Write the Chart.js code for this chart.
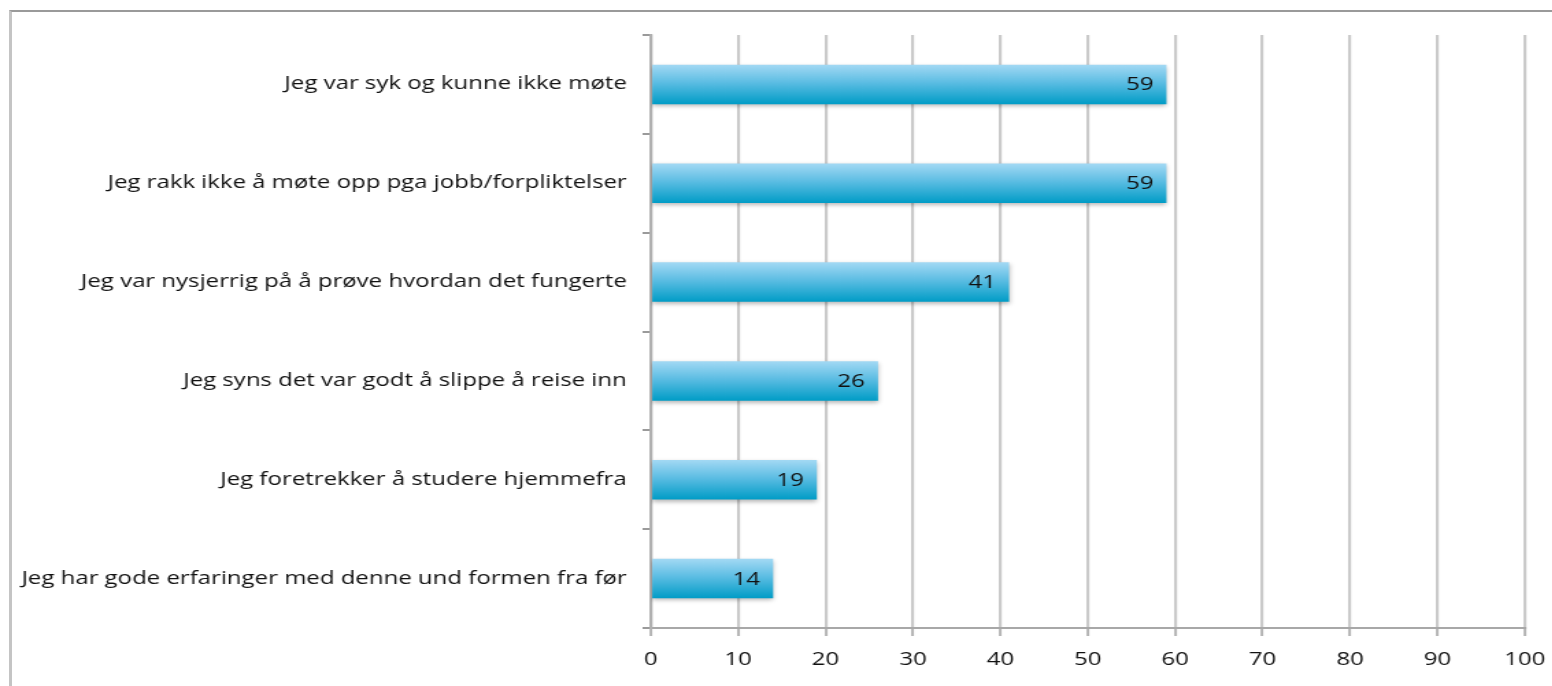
<!DOCTYPE html>
<html>
<head>
<meta charset="utf-8">
<script src="https://cdn.jsdelivr.net/npm/chart.js@4"></script>
<style>
  html, body { margin: 0; padding: 0; background: #fff; }
  #wrap { position: relative; width: 1552px; height: 686px; overflow: hidden; }
  #frame { position: absolute; left: 9px; top: 10px; width: 1600px; height: 800px;
           border-top: 2px solid #9a9a9a; border-left: 3px solid #c4c4c4; }
  /* originalen er strukket på bredden */
  #chart { position: absolute; left: 0; top: 0; transform-origin: 0 0; transform: scaleX(1.37); }
</style>
</head>
<body>
<div id="wrap">
  <div id="frame"></div>
  <canvas id="chart" width="1133" height="686"></canvas>
</div>
<script>
// Svar på hvorfor man fulgte undervisningen hjemmefra
const kategorier = [
    'Jeg var syk og kunne ikke møte',
    'Jeg rakk ikke å møte opp pga jobb/forpliktelser',
    'Jeg var nysjerrig på å prøve hvordan det fungerte',
    'Jeg syns det var godt å slippe å reise inn',
    'Jeg foretrekker å studere hjemmefra',
    'Jeg har gode erfaringer med denne und formen fra før'
];
const verdier = [59, 59, 41, 26, 19, 14];
const xTicks = [0, 10, 20, 30, 40, 50, 60, 70, 80, 90, 100];

const fontFamily = '"Open Sans", "Noto Sans", sans-serif';
const fontSize = 17.5;
const barPct = 0.4;

// gradient for hver stolpe, beregnet fra kategoriaksen
function stolpeFarge(context) {
    const chart = context.chart;
    const ys = chart.scales.y;
    if (!ys || context.dataIndex === undefined) return '#3fb0dc';
    const cy = ys.getPixelForValue(context.dataIndex);
    const h = (ys.bottom - ys.top) / kategorier.length * barPct;
    if (!isFinite(cy) || !isFinite(h) || h <= 0) return '#3fb0dc';
    const g = chart.ctx.createLinearGradient(0, cy - h / 2, 0, cy + h / 2);
    g.addColorStop(0, '#a3d9f4');
    g.addColorStop(0.45, '#5cbde3');
    g.addColorStop(1, '#009cc6');
    return g;
}

const stolpeStil = {
    id: 'stolpeStil',
    beforeDatasetsDraw(chart) {
        const ctx = chart.ctx;
        ctx.save();
        ctx.shadowColor = 'rgba(0, 0, 0, 0.28)';
        ctx.shadowBlur = 4;
        ctx.shadowOffsetY = 2;
    },
    afterDatasetsDraw(chart) {
        chart.ctx.restore();
        // verdier inne i stolpene
        const ctx = chart.ctx;
        ctx.save();
        ctx.font = fontSize + 'px ' + fontFamily;
        ctx.fillStyle = '#111';
        ctx.textAlign = 'right';
        ctx.textBaseline = 'middle';
        chart.getDatasetMeta(0).data.forEach((bar, i) => {
            ctx.fillText(verdier[i], bar.x - 9.5, bar.y + 1);
        });
        ctx.restore();
    }
};

new Chart(document.getElementById('chart').getContext('2d'), {
    type: 'bar',
    data: {
        labels: kategorier,
        datasets: [{
            data: verdier,
            backgroundColor: stolpeFarge,
            borderWidth: 0,
            barPercentage: barPct,
            categoryPercentage: 1
        }]
    },
    options: {
        indexAxis: 'y',
        responsive: false,
        animation: false,
        layout: { padding: { top: 35, right: 20, left: 0, bottom: 0 } },
        plugins: {
            legend: { display: false },
            tooltip: { enabled: false }
        },
        scales: {
            x: {
                min: 0,
                max: 100,
                afterBuildTicks: function(scale) {
                    scale.ticks = xTicks.map(v => ({ value: v }));
                },
                afterFit: function(scale) {
                    scale.height = 58;
                    scale.paddingLeft = 0;
                    scale.paddingRight = 0;
                },
                grid: {
                    color: '#cacaca',
                    lineWidth: 2.2,
                    tickLength: 8,
                    tickColor: '#b4b4b4',
                    tickWidth: 2
                },
                border: { display: true, color: '#a8a8a8', width: 2 },
                ticks: {
                    padding: 14,
                    color: '#111',
                    font: { family: fontFamily, size: fontSize }
                }
            },
            y: {
                afterFit: function(scale) { scale.width = 475; },
                grid: {
                    drawOnChartArea: false,
                    offset: true,
                    tickLength: 6,
                    color: '#9a9a9a',
                    lineWidth: 2
                },
                border: { display: true, color: '#b0b0b0', width: 2.2 },
                ticks: {
                    padding: 11.5,
                    color: '#111',
                    font: { family: fontFamily, size: fontSize }
                }
            }
        }
    },
    plugins: [stolpeStil]
});
</script>
</body>
</html>
